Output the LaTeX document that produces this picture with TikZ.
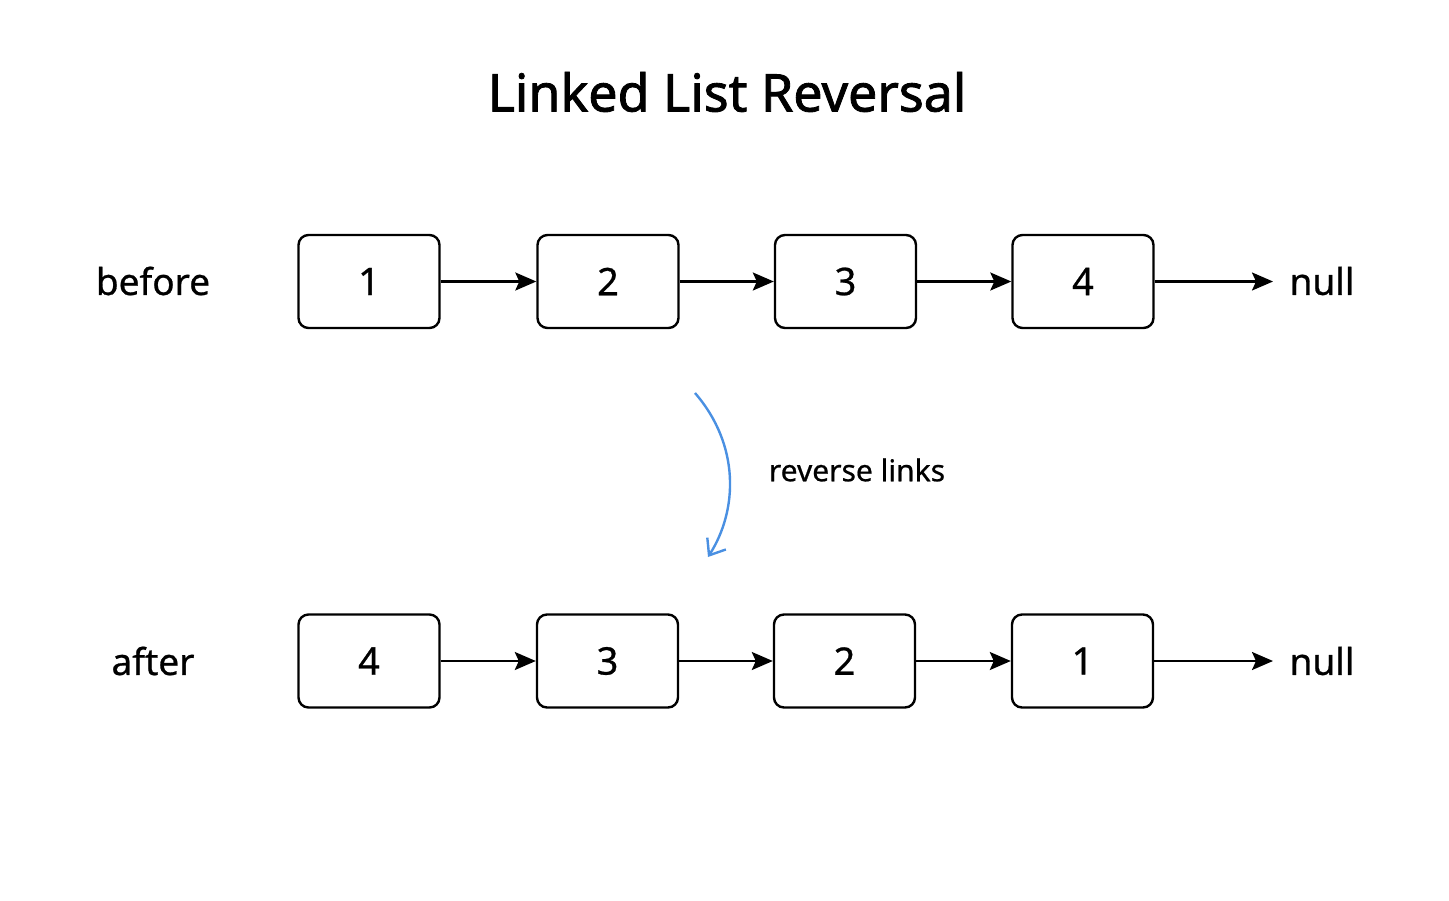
\documentclass[tikz,border=0pt]{standalone}
\usepackage{fontspec}
\setmainfont[FakeBold=0.6]{Noto Sans}
\newfontfamily\titlefont[FakeBold=1.6]{Noto Sans}
\newfontfamily\bodyfont[FakeBold=0.7]{Noto Sans}
\usetikzlibrary{arrows.meta}
\definecolor{curveblue}{HTML}{4A90E2}
\tikzset{
  listbox/.style={draw=black, line width=2.4pt, rounded corners=10pt, minimum width=141pt, minimum height=93pt, inner sep=0pt, font=\bodyfont\bfseries\fontsize{38}{44}\selectfont},
  link/.style={draw=black, line width=2.2pt, -{Stealth[length=21pt,width=18pt,inset=4pt]}},
  lbl/.style={inner sep=0pt, font=\bodyfont\bfseries\fontsize{37}{44}\selectfont},
  revarrow/.style={draw=curveblue, line width=2.4pt, -{Straight Barb[length=14pt,width=22pt,line width=2.4pt]}},
}
\begin{document}
\begin{tikzpicture}[x=1pt,y=-1pt]
\useasboundingbox (0,0) rectangle (1449,900);
\fill[white] (0,0) rectangle (1449,900);
\node[inner sep=0pt, font=\titlefont\bfseries\fontsize{52}{60}\selectfont] (title) at (727,92) {Linked List Reversal};
% before row
\node[lbl] (before) at (153,281) {before};
\node[listbox] (a1) at (369,281.5) {1};
\node[listbox] (a2) at (608,281.5) {2};
\node[listbox] (a3) at (845.5,281.5) {3};
\node[listbox] (a4) at (1083,281.5) {4};
\coordinate (anull) at (1273,281.5);
\node[lbl] (nullA) at (1322,281) {null};
\draw[link] (a1) -- (a2);
\draw[link] (a2) -- (a3);
\draw[link] (a3) -- (a4);
\draw[link] (a4) -- (anull);
% reverse arrow
\coordinate (rs) at (695,393);
\coordinate (re) at (708,557);
\draw[revarrow] (rs) .. controls (740,445) and (738,510) .. (re);
\node[inner sep=0pt, font=\bodyfont\bfseries\fontsize{30}{34}\selectfont] (revlbl) at (857,470) {reverse links};
% after row
\node[lbl] (after) at (153,661) {after};
\node[listbox] (b1) at (369,661) {4};
\node[listbox] (b2) at (607.5,661) {3};
\node[listbox] (b3) at (844.5,661) {2};
\node[listbox] (b4) at (1082.5,661) {1};
\coordinate (bnull) at (1273,661);
\node[lbl] (nullB) at (1322,661) {null};
\draw[link] (b1) -- (b2);
\draw[link] (b2) -- (b3);
\draw[link] (b3) -- (b4);
\draw[link] (b4) -- (bnull);
\end{tikzpicture}
\end{document}
